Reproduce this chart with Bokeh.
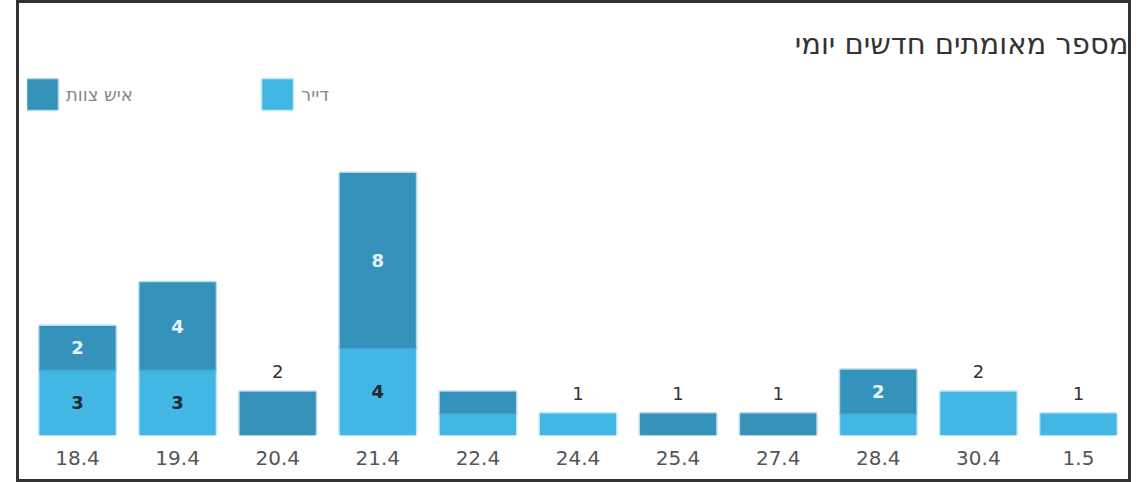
from bokeh.plotting import figure
from bokeh.models import ColumnDataSource, Legend, LegendItem, FactorRange, Range1d
from bokeh.core.properties import value
from bokeh.embed import file_html
from bokeh.resources import INLINE

# ---- data ----
dates = ["18.4", "19.4", "20.4", "21.4", "22.4", "24.4", "25.4", "27.4", "28.4", "30.4", "1.5"]
resident = [3, 3, 0, 4, 1, 1, 0, 0, 1, 2, 1]   # דייר
staff = [2, 4, 2, 8, 1, 0, 1, 1, 2, 0, 0]      # איש צוות
staff_name = "איש צוות"
resident_name = "דייר"
title_text = "מספר מאומתים חדשים יומי"

DARK = "#3593bb"
LIGHT = "#42b7e4"
FONT = "DejaVu Sans"

n = len(dates)
res_bottom = [0] * n
res_top = list(resident)
staff_bottom = list(resident)
staff_top = [r + s for r, s in zip(resident, staff)]


def seg_source(bottoms, tops):
    keep = [i for i in range(n) if tops[i] > bottoms[i]]
    return ColumnDataSource(dict(
        x=[dates[i] for i in keep],
        bottom=[bottoms[i] for i in keep],
        top=[tops[i] for i in keep],
    ))


p = figure(
    width=1115, height=482,
    x_range=FactorRange(*dates), y_range=Range1d(0, 17),
    output_backend="svg", toolbar_location=None,
    y_axis_location=None,
    min_border_left=8, min_border_right=6, min_border_top=60, min_border_bottom=50,
)
p.styles = {"border": "3px solid #333333", "margin-left": "16px"}
p.outline_line_color = None
p.background_fill_color = "white"
p.border_fill_color = "white"
p.xgrid.visible = False
p.ygrid.visible = False

p.title.text = title_text
p.title.align = "right"
p.title.text_font = FONT
p.title.text_font_size = "29px"
p.title.text_font_style = "normal"
p.title.text_color = "#333333"
p.title.standoff = 6

r_res = p.vbar(x="x", bottom="bottom", top="top", width=0.76, source=seg_source(res_bottom, res_top),
               fill_color=LIGHT, line_color=LIGHT, line_alpha=0.35, line_width=3)
r_staff = p.vbar(x="x", bottom="bottom", top="top", width=0.76, source=seg_source(staff_bottom, staff_top),
                 fill_color=DARK, line_color=DARK, line_alpha=0.35, line_width=3)

# ---- value labels ----
in_x, in_y, in_t, in_c = [], [], [], []
ab_x, ab_y, ab_t = [], [], []
for i in range(n):
    r, s = resident[i], staff[i]
    if r > 0 and s > 0:
        if r >= 2:
            in_x.append(dates[i]); in_y.append(r / 2); in_t.append(str(r)); in_c.append("#1d2a33")
        if s >= 2:
            in_x.append(dates[i]); in_y.append(r + s / 2); in_t.append(str(s)); in_c.append("#e6f3f9")
    elif r + s > 0:
        ab_x.append(dates[i]); ab_y.append(r + s); ab_t.append(str(r + s))

p.text(x="x", y="y", text="t", text_color="c",
       source=ColumnDataSource(dict(x=in_x, y=in_y, t=in_t, c=in_c)),
       text_align="center", text_baseline="middle",
       text_font=value(FONT), text_font_size="18px", text_font_style="bold")
p.text(x="x", y="y", text="t",
       source=ColumnDataSource(dict(x=ab_x, y=ab_y, t=ab_t)),
       text_align="center", text_baseline="middle", y_offset=-20,
       text_color="#333333", text_font=value(FONT), text_font_size="18px")

# ---- axis ----
ax = p.xaxis[0]
ax.axis_line_color = None
ax.major_tick_line_color = None
ax.minor_tick_line_color = None
ax.major_label_standoff = 9
ax.major_label_text_font = FONT
ax.major_label_text_font_size = "20px"
ax.major_label_text_color = "#555555"

# ---- legends ----
for rend, name, loc in [(r_staff, staff_name, (-4, 322)), (r_res, resident_name, (231, 322))]:
    lg = Legend(items=[LegendItem(label=name, renderers=[rend])], location=loc,
                orientation="horizontal", glyph_width=38, glyph_height=38,
                label_standoff=5, padding=0, margin=0, spacing=0,
                border_line_color=None, background_fill_alpha=0,
                label_text_font=FONT, label_text_font_size="18px", label_text_color="#888888")
    p.add_layout(lg)

open("out.html", "w").write(file_html(p, INLINE))
